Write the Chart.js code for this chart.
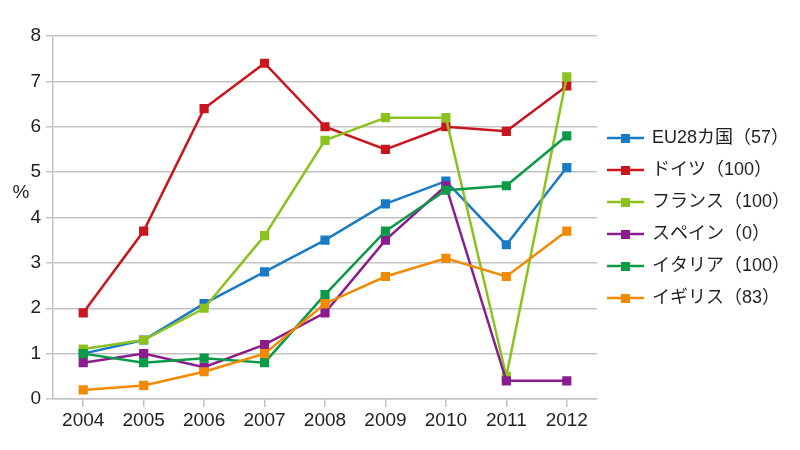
<!DOCTYPE html>
<html>
<head>
<meta charset="utf-8">
<script src="https://cdn.jsdelivr.net/npm/chart.js@4.4.1/dist/chart.umd.min.js"></script>
<style>
  html, body { margin: 0; padding: 0; background: #fff; }
  #wrap { width: 800px; height: 450px; }
</style>
</head>
<body>
<div id="wrap"><canvas id="chart" width="800" height="450"></canvas></div>
<script>
const years = ['2004', '2005', '2006', '2007', '2008', '2009', '2010', '2011', '2012'];
const seriesNames = ['EU28カ国（57）', 'ドイツ（100）', 'フランス（100）', 'スペイン（0）', 'イタリア（100）', 'イギリス（83）'];
const eu28 = [1.0, 1.3, 2.1, 2.8, 3.5, 4.3, 4.8, 3.4, 5.1];
const germany = [1.9, 3.7, 6.4, 7.4, 6.0, 5.5, 6.0, 5.9, 6.9];
const france = [1.1, 1.3, 2.0, 3.6, 5.7, 6.2, 6.2, 0.5, 7.1];
const spain = [0.8, 1.0, 0.7, 1.2, 1.9, 3.5, 4.7, 0.4, 0.4];
const italy = [1.0, 0.8, 0.9, 0.8, 2.3, 3.7, 4.6, 4.7, 5.8];
const uk = [0.2, 0.3, 0.6, 1.0, 2.1, 2.7, 3.1, 2.7, 3.7];
const yTicks = [0, 1, 2, 3, 4, 5, 6, 7, 8];

const colors = ['#1a7bc5', '#c9151e', '#8cc21f', '#8b1c8d', '#0b9a48', '#f18a00'];
const allValues = [eu28, germany, france, spain, italy, uk];

const FONT = '"Liberation Sans", "Noto Sans CJK JP", sans-serif';
const textColor = '#231f20';
const gridColor = '#c3c3c3';

// legend marker: short line with a square in the middle
function legendMarker(color) {
    const c = document.createElement('canvas');
    c.width = 37;
    c.height = 10;
    const g = c.getContext('2d');
    g.strokeStyle = color;
    g.lineWidth = 2.5;
    g.beginPath();
    g.moveTo(0, 5);
    g.lineTo(37, 5);
    g.stroke();
    g.fillStyle = color;
    g.fillRect(14, 1, 9, 9);
    return c;
}

const datasets = seriesNames.map((name, i) => ({
    label: name,
    data: allValues[i],
    borderColor: colors[i],
    backgroundColor: colors[i],
    borderWidth: 2.5,
    pointStyle: 'rect',
    pointRadius: 6.5,
    pointHoverRadius: 6.5,
    pointBorderWidth: 0,
    tension: 0,
    order: seriesNames.length - i // later series drawn on top
}));

// "%" label next to the y axis (not rotated), and legend moved up a bit
const extras = {
    id: 'extras',
    afterLayout(chart) {
        chart.legend.top = 0;
        chart.legend.bottom = 436;
        chart.legend.left -= 3;
    },
    afterDraw(chart) {
        const ctx = chart.ctx;
        const y = chart.scales.y;
        ctx.save();
        ctx.font = '19px ' + FONT;
        ctx.fillStyle = textColor;
        ctx.textAlign = 'center';
        ctx.textBaseline = 'middle';
        ctx.fillText('%', 21, y.getPixelForValue(4.55));
        ctx.restore();
    }
};

new Chart(document.getElementById('chart'), {
    type: 'line',
    data: { labels: years, datasets: datasets },
    plugins: [extras],
    options: {
        responsive: false,
        animation: false,
        layout: { padding: { top: 36, right: 4, bottom: 0, left: 0 } },
        plugins: {
            tooltip: { enabled: false },
            legend: {
                position: 'right',
                labels: {
                    usePointStyle: true,
                    pointStyleWidth: 35,
                    padding: 14,
                    color: textColor,
                    font: { family: FONT, size: 18 },
                    sort: (a, b) => a.datasetIndex - b.datasetIndex,
                    generateLabels(chart) {
                        return chart.data.datasets.map((ds, i) => ({
                            text: ds.label,
                            fillStyle: ds.borderColor,
                            strokeStyle: ds.borderColor,
                            lineWidth: 0,
                            pointStyle: legendMarker(ds.borderColor),
                            datasetIndex: i,
                            hidden: false,
                            fontColor: textColor
                        }));
                    }
                }
            }
        },
        scales: {
            x: {
                offset: true,
                grid: {
                    display: true,
                    drawOnChartArea: false,
                    drawTicks: true,
                    tickLength: 8,
                    color: gridColor,
                    lineWidth: 1.5
                },
                border: { color: gridColor, width: 1.5 },
                ticks: {
                    color: textColor,
                    font: { family: FONT, size: 19 },
                    padding: 2,
                    maxRotation: 0
                },
                afterFit(scale) { scale.height = 51; }
            },
            y: {
                min: 0,
                max: 8,
                afterBuildTicks(scale) { scale.ticks = yTicks.map(v => ({ value: v })); },
                grid: {
                    color: gridColor,
                    lineWidth: 1.5,
                    tickLength: 7
                },
                border: { color: gridColor, width: 1.5 },
                ticks: {
                    color: textColor,
                    font: { family: FONT, size: 19 },
                    padding: 5
                },
                afterFit(scale) { scale.width = 53; }
            }
        }
    }
});
</script>
</body>
</html>
